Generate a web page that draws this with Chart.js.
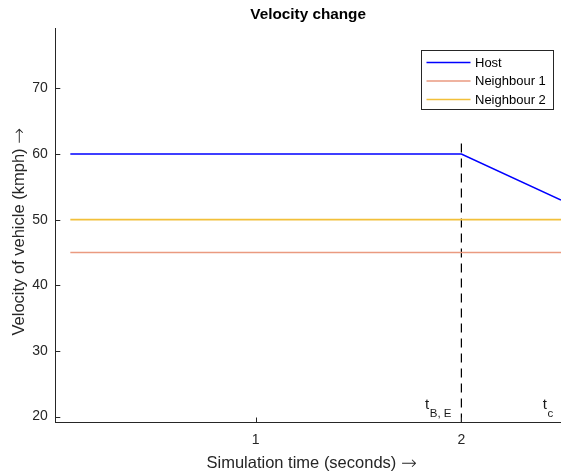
<!DOCTYPE html>
<html>
<head>
<meta charset="utf-8">
<script src="https://cdn.jsdelivr.net/npm/chart.js@4.4.1/dist/chart.umd.min.js"></script>
<style>
  html, body { margin: 0; padding: 0; background: #ffffff; }
  #wrap { width: 561px; height: 473px; position: relative; }
</style>
</head>
<body>
<div id="wrap"><canvas id="c" width="561" height="473"></canvas></div>
<script>
// ---- data ----
const titleText = 'Velocity change';
const xLabel = 'Simulation time (seconds)';
const yLabel = 'Velocity of vehicle (kmph)';
const arrowGlyph = '\u2192';

const hostX = [0.1, 2, 2.484];
const hostV = [60, 60, 53];
const n1X = [0.1, 2.484];
const n1V = [45, 45];
const n2X = [0.1, 2.484];
const n2V = [50, 50];
const markerX = [2, 2];
const markerV = [19.1, 62];

const seriesNames = ['Host', 'Neighbour 1', 'Neighbour 2'];
const seriesColors = ['#0000ff', '#ea9a80', '#f2c03a'];

const xTickVals = [1, 2];
const yTickVals = [20, 30, 40, 50, 60, 70];
const xRange = [0.027, 2.484];
const yRange = [19.1, 79.2];

const annoX = [1.8236, 2.3955];
const annoY = [21.17, 21.17];
const annoMain = ['t', 't'];
const annoSub = ['B, E', 'c'];

const pts = (xs, ys) => xs.map((x, i) => ({ x: x, y: ys[i] }));

const AXIS = '#262626';
const FONT = '"Liberation Sans", Arial, Helvetica, sans-serif';
const ARROWFONT = '"DejaVu Sans", sans-serif';

function labelWithArrow(ctx, text, cx, cy, size) {
  ctx.font = size + 'px ' + FONT;
  const w1 = ctx.measureText(text + ' ').width;
  const af = '200 ' + (size * 1.15) + 'px ' + ARROWFONT;
  ctx.font = af;
  const w2 = ctx.measureText(arrowGlyph).width;
  const start = cx - (w1 + w2) / 2;
  ctx.textAlign = 'left';
  ctx.textBaseline = 'middle';
  ctx.font = size + 'px ' + FONT;
  ctx.fillText(text + ' ', start, cy);
  ctx.font = af;
  ctx.fillText(arrowGlyph, start + w1, cy + 1);
}

const decor = {
  id: 'decor',
  afterDraw(chart) {
    const ctx = chart.ctx;
    const ca = chart.chartArea;
    const xs = chart.scales.x, ys = chart.scales.y;
    ctx.save();
    // tick marks (inward)
    ctx.strokeStyle = AXIS;
    ctx.lineWidth = 1;
    ys.ticks.forEach(t => {
      const py = Math.round(ys.getPixelForValue(t.value)) + 0.5;
      ctx.beginPath(); ctx.moveTo(ca.left, py); ctx.lineTo(ca.left + 5, py); ctx.stroke();
    });
    xs.ticks.forEach(t => {
      const px = Math.round(xs.getPixelForValue(t.value)) + 0.5;
      ctx.beginPath(); ctx.moveTo(px, ca.bottom); ctx.lineTo(px, ca.bottom - 5); ctx.stroke();
    });
    // title
    ctx.fillStyle = '#000';
    ctx.font = 'bold 15.3px ' + FONT;
    ctx.textAlign = 'center';
    ctx.textBaseline = 'middle';
    ctx.fillText(titleText, (ca.left + ca.right) / 2, 15);
    // axis titles
    ctx.fillStyle = '#262626';
    labelWithArrow(ctx, xLabel, (ca.left + ca.right) / 2 + 3.5, 463, 16.5);
    ctx.save();
    ctx.translate(19.5, (ca.top + ca.bottom) / 2 + 6.5);
    ctx.rotate(-Math.PI / 2);
    labelWithArrow(ctx, yLabel, 0, 0, 16.5);
    ctx.restore();
    // annotations
    ctx.textAlign = 'left';
    ctx.textBaseline = 'alphabetic';
    for (let i = 0; i < annoX.length; i++) {
      const px = xs.getPixelForValue(annoX[i]);
      const py = ys.getPixelForValue(annoY[i]);
      ctx.font = '15px ' + FONT;
      ctx.fillStyle = '#1a1a1a';
      ctx.fillText(annoMain[i], px, py);
      const w = ctx.measureText(annoMain[i]).width;
      ctx.font = '11.5px ' + FONT;
      ctx.fillText(annoSub[i], px + w + 0.5, py + 8);
    }
    // legend
    const bx = 421.5, by = 50.5, bw = 132, bh = 59;
    ctx.fillStyle = '#fff';
    ctx.fillRect(bx, by, bw, bh);
    ctx.strokeStyle = '#262626';
    ctx.lineWidth = 1;
    ctx.strokeRect(bx, by, bw, bh);
    ctx.font = '13px ' + FONT;
    ctx.textBaseline = 'middle';
    chart.data.datasets.forEach((ds, i) => {
      if (!ds.label) return;
      const ly = 62.5 + i * 18.5;
      ctx.strokeStyle = ds.borderColor;
      ctx.lineWidth = 1.5;
      ctx.beginPath(); ctx.moveTo(426.5, ly); ctx.lineTo(470.5, ly); ctx.stroke();
      ctx.fillStyle = '#000';
      ctx.fillText(ds.label, 475, ly + 0.5);
    });
    ctx.restore();
  }
};

new Chart(document.getElementById('c'), {
  type: 'scatter',
  data: {
    datasets: [
      { label: seriesNames[0], data: pts(hostX, hostV), borderColor: seriesColors[0] },
      { label: seriesNames[1], data: pts(n1X, n1V), borderColor: seriesColors[1] },
      { label: seriesNames[2], data: pts(n2X, n2V), borderColor: seriesColors[2], borderWidth: 1.8 },
      { label: '', data: pts(markerX, markerV), borderColor: '#000000', borderDash: [9, 6], borderWidth: 1.2 }
    ].map(d => Object.assign({
      showLine: true, pointRadius: 0, pointHoverRadius: 0, borderWidth: 1.5,
      backgroundColor: d.borderColor, tension: 0, clip: 0
    }, d))
  },
  options: {
    responsive: false,
    animation: false,
    events: [],
    layout: { padding: { top: 28, right: 0, bottom: 0, left: 0 } },
    plugins: { legend: { display: false }, tooltip: { enabled: false }, title: { display: false } },
    scales: {
      x: {
        type: 'linear', min: xRange[0], max: xRange[1],
        afterBuildTicks: s => { s.ticks = xTickVals.map(v => ({ value: v })); },
        afterFit: s => { s.height = 50.5; },
        grid: { display: false, drawTicks: false, tickLength: 0 },
        border: { display: true, color: AXIS, width: 1 },
        ticks: { color: '#262626', font: { family: FONT, size: 14 }, padding: 9, maxRotation: 0,
                 callback: v => String(v) },
        title: { display: false }
      },
      y: {
        type: 'linear', min: yRange[0], max: yRange[1],
        afterBuildTicks: s => { s.ticks = yTickVals.map(v => ({ value: v })); },
        afterFit: s => { s.width = 55.3; },
        grid: { display: false, drawTicks: false, tickLength: 0 },
        border: { display: true, color: AXIS, width: 1 },
        ticks: { color: '#262626', font: { family: FONT, size: 14 }, padding: 7.5,
                 callback: v => String(v) },
        title: { display: false }
      }
    }
  },
  plugins: [decor]
});
</script>
</body>
</html>
